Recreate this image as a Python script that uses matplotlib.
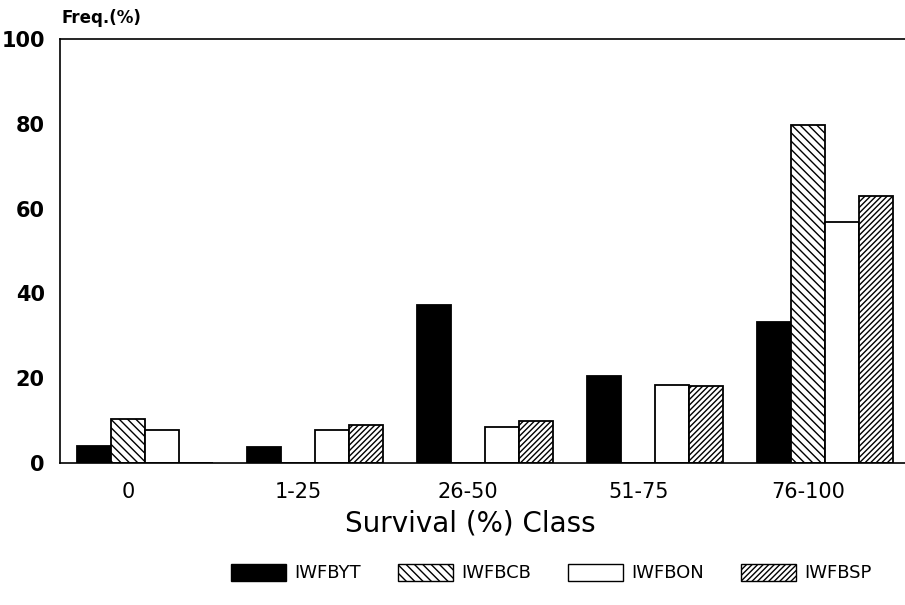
import numpy as np
import matplotlib.pyplot as plt
from matplotlib.patches import Patch

plt.rcParams['font.family'] = ['DejaVu Sans']
plt.rcParams['hatch.linewidth'] = 1.0

# survival classes and frequency (%) per seed source
classes = ['0', '1-25', '26-50', '51-75', '76-100']
iwfbyt = [4.0, 3.8, 37.3, 20.6, 33.3]
iwfbcb = [10.4, 0.0, 0.0, 0.0, 79.7]
iwfbon = [7.9, 7.8, 8.5, 18.5, 56.8]
iwfbsp = [0.0, 9.0, 9.9, 18.1, 63.0]
series_names = ['IWFBYT', 'IWFBCB', 'IWFBON', 'IWFBSP']

fig = plt.figure(figsize=(9.05, 6.05), dpi=100)
ax = fig.add_axes([0.0663, 0.2347, 0.934, 0.7008])

x = np.arange(len(classes))
w = 0.2
styles = [
    dict(facecolor='black', edgecolor='black', hatch=None),
    dict(facecolor='white', edgecolor='black', hatch='\\\\\\\\'),
    dict(facecolor='white', edgecolor='black', hatch=None),
    dict(facecolor='white', edgecolor='black', hatch='//////'),
]
for i, (vals, st) in enumerate(zip([iwfbyt, iwfbcb, iwfbon, iwfbsp], styles)):
    ax.bar(x + (i - 1.5) * w, vals, width=w, linewidth=1.3, **st)

ax.set_xlim(-0.5, 4.47)
ax.set_ylim(0, 100)
ax.set_yticks([0, 20, 40, 60, 80, 100])
# class labels sit a little left of the bar group centres
ax.set_xticks(x - 0.1)
ax.set_xticklabels(classes, fontsize=15)
ax.tick_params(axis='x', length=0, pad=14)
ax.tick_params(axis='y', length=0, pad=11, labelsize=15)
for lbl in ax.get_yticklabels():
    lbl.set_fontweight('bold')

ax.spines['right'].set_visible(False)
for s in ['left', 'top', 'bottom']:
    ax.spines[s].set_linewidth(1.2)

ax.set_xlabel('Survival (%) Class', fontsize=20)
ax.xaxis.set_label_coords((470 - 60) / 845, -0.11)
fig.text(0.068, 0.97, 'Freq.(%)', fontsize=12, fontweight='bold', va='center')

handles = [Patch(label=n, linewidth=1.0, **st) for n, st in zip(series_names, styles)]
fig.legend(handles=handles, loc='center', ncol=4, frameon=False,
           fontsize=13, bbox_to_anchor=(0.609, 0.053), handlelength=3.05,
           handleheight=1.1, columnspacing=2.05, handletextpad=0.45)

plt.savefig('out.png', dpi=100)
plt.close()
